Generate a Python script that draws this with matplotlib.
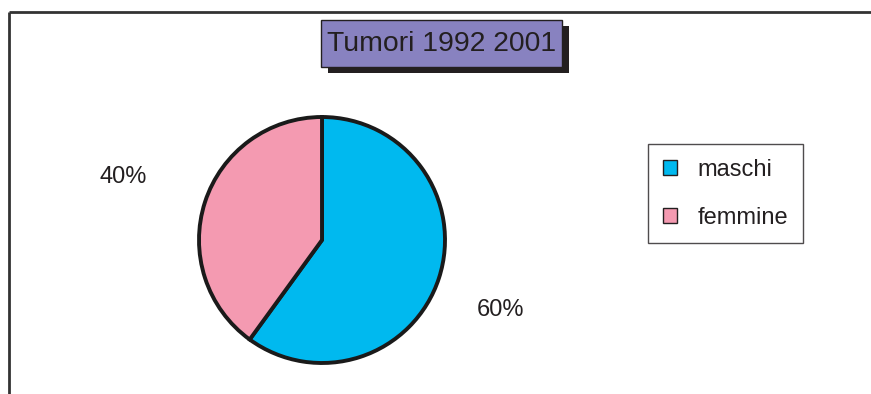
import matplotlib.pyplot as plt
from matplotlib.patches import Rectangle, Patch

# dati
labels = ["maschi", "femmine"]
values = [60, 40]
colors = ["#00b9ef", "#f49ab1"]
title = "Tumori 1992 2001"

W, H = 871, 394
plt.rcParams["font.family"] = ["Liberation Sans", "DejaVu Sans"]

fig = plt.figure(figsize=(W / 100, H / 100), dpi=100)
ax = fig.add_axes([0, 0, 1, 1])

# cornice del grafico (tagliata a destra e in basso)
ax.plot([9, W], [H - 12, H - 12], color="#333333", lw=2, solid_capstyle="butt")
ax.plot([9, 9], [H - 12, 0], color="#333333", lw=2, solid_capstyle="butt")

# torta
wedges, _ = ax.pie(values, colors=colors, startangle=90, counterclock=False,
                   center=(322, H - 240), radius=123, frame=True,
                   wedgeprops=dict(edgecolor="#1a1a1a", linewidth=2.8))
ax.set_xlim(0, W)
ax.set_ylim(0, H)
ax.set_aspect("equal")
ax.axis("off")

# etichette percentuali
ax.text(123, H - 177, f"{values[1]}%", fontsize=17, ha="center", va="center", color="#231f20")
ax.text(500, H - 310, f"{values[0]}%", fontsize=17, ha="center", va="center", color="#231f20")

# titolo con ombra
ax.add_patch(Rectangle((328, H - 73), 241, 47, facecolor="#231f20", edgecolor="none"))
ax.add_patch(Rectangle((321, H - 67), 241, 47, facecolor="#8882c0",
                       edgecolor="#231f20", linewidth=1))
ax.text(442, H - 44, title, fontsize=20.4, ha="center", va="center", color="#231f20")

# legenda
handles = [Patch(facecolor=c, edgecolor="#231f20", linewidth=1) for c in colors]
leg = ax.legend(handles, labels, loc="upper left",
                bbox_to_anchor=(648 / W, 1 - 144 / H), bbox_transform=fig.transFigure,
                borderaxespad=0, fontsize=17, frameon=True, fancybox=False,
                edgecolor="#231f20", handlelength=0.62, handleheight=0.62,
                handletextpad=0.85, labelspacing=1.1, borderpad=0.62,
                labelcolor="#231f20")
leg.get_frame().set_linewidth(1)

fig.savefig("out.png", dpi=100)
